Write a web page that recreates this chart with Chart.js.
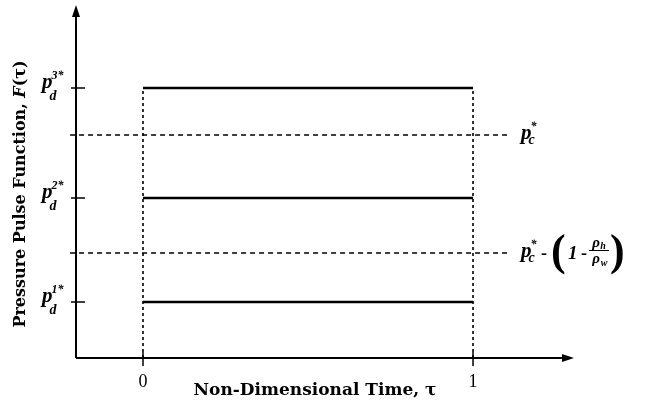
<!DOCTYPE html>
<html>
<head>
<meta charset="utf-8">
<script src="https://cdn.jsdelivr.net/npm/chart.js@4"></script>
<style>
  html, body { margin: 0; padding: 0; background: #fff; }
  #wrap { width: 646px; height: 406px; }
</style>
</head>
<body>
<div id="wrap"><canvas id="chart" width="646" height="406"></canvas></div>
<script>
// values (y in arbitrary pressure units, x = tau)
const timeTicks = [0, 1];
const timeTickLabels = ['0', '1'];
const pulseLevels = [0.56, 1.60, 2.70];      // p_d^1*, p_d^2*, p_d^3*
const pulseSup = ['1*', '2*', '3*'];
const thresholdLevels = [2.23, 1.05];        // p_c*, p_c* - (1 - rho_h/rho_w)
const pulseStart = 0;
const pulseEnd = 1;
const thresholdFrom = -0.221;
const thresholdTo = 1.103;

const SERIF = '"Liberation Serif", "DejaVu Serif", serif';
const TITLE = '"DejaVu Serif", serif';

const datasets = [];
pulseLevels.forEach(function (p) {
  datasets.push({
    data: [{ x: pulseStart, y: p }, { x: pulseEnd, y: p }],
    borderColor: '#000', borderWidth: 2.6, pointRadius: 0, showLine: true
  });
});
thresholdLevels.forEach(function (p) {
  datasets.push({
    data: [{ x: thresholdFrom, y: p }, { x: thresholdTo, y: p }],
    borderColor: '#000', borderWidth: 1.5, borderDash: [5, 4],
    pointRadius: 0, showLine: true, clip: false
  });
});
timeTicks.forEach(function (t) {
  datasets.push({
    data: [{ x: t, y: 0 }, { x: t, y: Math.max(...pulseLevels) }],
    borderColor: '#000', borderWidth: 1.6, borderDash: [3, 3],
    pointRadius: 0, showLine: true, clip: false
  });
});

// italic p with subscript and superscript, baseline at y
function drawP(ctx, x, y, sub, sup, subDy) {
  ctx.fillStyle = '#000';
  ctx.textBaseline = 'alphabetic';
  ctx.textAlign = 'left';
  ctx.font = 'italic bold 21px ' + SERIF;
  ctx.fillText('p', x, y);
  const w = ctx.measureText('p').width;
  ctx.font = 'italic bold 14px ' + SERIF;
  ctx.fillText(sub, x + w - 3, y + subDy);
  ctx.font = 'italic bold 12px ' + SERIF;
  ctx.fillText(sup, x + w - 1, y - 9);
}

const axesPlugin = {
  id: 'axesPlugin',
  afterDatasetsDraw(chart) {
    const ctx = chart.ctx;
    const xs = chart.scales.x, ys = chart.scales.y;
    const area = chart.chartArea;
    const x0 = area.left, y0 = area.bottom;
    ctx.save();
    ctx.strokeStyle = '#000';
    ctx.fillStyle = '#000';
    ctx.lineWidth = 2;
    // y axis with arrow
    ctx.beginPath();
    ctx.moveTo(x0, y0);
    ctx.lineTo(x0, area.top + 8);
    ctx.stroke();
    ctx.beginPath();
    ctx.moveTo(x0, area.top - 3);
    ctx.lineTo(x0 - 4, area.top + 9);
    ctx.lineTo(x0 + 4, area.top + 9);
    ctx.closePath();
    ctx.fill();
    // x axis with arrow
    ctx.beginPath();
    ctx.moveTo(x0, y0);
    ctx.lineTo(area.right - 8, y0);
    ctx.stroke();
    ctx.beginPath();
    ctx.moveTo(area.right, y0);
    ctx.lineTo(area.right - 12, y0 - 4);
    ctx.lineTo(area.right - 12, y0 + 4);
    ctx.closePath();
    ctx.fill();

    // x ticks and labels
    ctx.lineWidth = 1.5;
    ctx.font = '18px ' + SERIF;
    ctx.textAlign = 'center';
    ctx.textBaseline = 'middle';
    timeTicks.forEach(function (t, i) {
      const px = xs.getPixelForValue(t);
      ctx.beginPath();
      ctx.moveTo(px, y0 - 6);
      ctx.lineTo(px, y0 + 8);
      ctx.stroke();
      ctx.fillText(timeTickLabels[i], px, y0 + 24);
    });

    // y ticks and p_d labels
    pulseLevels.forEach(function (p, i) {
      const py = ys.getPixelForValue(p);
      ctx.beginPath();
      ctx.moveTo(x0 - 5, py);
      ctx.lineTo(x0 + 9, py);
      ctx.stroke();
      drawP(ctx, x0 - 34, py, 'd', pulseSup[i], 12);
    });

    // threshold labels
    const lx = xs.getPixelForValue(thresholdTo) + 14;
    const t1 = ys.getPixelForValue(thresholdLevels[0]);
    drawP(ctx, lx, t1 + 4, 'c', '*', 5);
    const t2 = ys.getPixelForValue(thresholdLevels[1]);
    drawP(ctx, lx, t2 + 4, 'c', '*', 5);
    ctx.font = 'bold 18px ' + SERIF;
    ctx.textAlign = 'left';
    ctx.textBaseline = 'middle';
    ctx.fillText('-', lx + 20, t2 + 1);
    ctx.font = 'bold 44px ' + SERIF;
    ctx.fillText('(', lx + 30, t2 + 1);
    ctx.font = 'italic bold 19px ' + SERIF;
    ctx.fillText('1', lx + 47, t2 + 1);
    ctx.font = 'bold 18px ' + SERIF;
    ctx.fillText('-', lx + 60, t2 + 1);
    ctx.font = 'italic bold 15px ' + SERIF;
    ctx.textAlign = 'center';
    ctx.textBaseline = 'alphabetic';
    ctx.fillText('\u03c1', lx + 75, t2 - 6);
    ctx.fillText('\u03c1', lx + 75, t2 + 10);
    ctx.font = 'italic bold 10px ' + SERIF;
    ctx.fillText('h', lx + 82, t2 - 4);
    ctx.fillText('w', lx + 83, t2 + 13);
    ctx.lineWidth = 1;
    ctx.beginPath();
    ctx.moveTo(lx + 68, t2 - 2.5);
    ctx.lineTo(lx + 88, t2 - 2.5);
    ctx.stroke();
    ctx.font = 'bold 44px ' + SERIF;
    ctx.textAlign = 'left';
    ctx.textBaseline = 'middle';
    ctx.fillText(')', lx + 89, t2 + 1);

    // axis titles
    ctx.font = 'bold 17px ' + TITLE;
    ctx.textAlign = 'center';
    ctx.textBaseline = 'middle';
    ctx.fillText('Non-Dimensional Time, \u03c4', 315, 391);

    ctx.translate(21, 194);
    ctx.rotate(-Math.PI / 2);
    const a = 'Pressure Pulse Function, ';
    const b = 'F';
    const c = '(\u03c4)';
    const fs = 16;
    ctx.font = 'bold ' + fs + 'px ' + TITLE;
    const wa = ctx.measureText(a).width, wc = ctx.measureText(c).width;
    ctx.font = 'italic bold ' + fs + 'px ' + TITLE;
    const wb = ctx.measureText(b).width;
    const sx = -(wa + wb + wc) / 2;
    ctx.textAlign = 'left';
    ctx.font = 'bold ' + fs + 'px ' + TITLE;
    ctx.fillText(a, sx, 0);
    ctx.font = 'italic bold ' + fs + 'px ' + TITLE;
    ctx.fillText(b, sx + wa, 0);
    ctx.font = 'bold ' + fs + 'px ' + TITLE;
    ctx.fillText(c, sx + wa + wb, 0);
    ctx.restore();
  }
};

new Chart(document.getElementById('chart'), {
  type: 'scatter',
  data: { datasets: datasets },
  options: {
    responsive: false,
    animation: false,
    layout: { padding: { left: 76, right: 72, top: 8, bottom: 48 } },
    plugins: { legend: { display: false }, tooltip: { enabled: false } },
    scales: {
      x: { type: 'linear', display: false, min: -0.203, max: 1.306 },
      y: { type: 'linear', display: false, min: 0, max: 3.5 }
    }
  },
  plugins: [axesPlugin]
});
</script>
</body>
</html>
